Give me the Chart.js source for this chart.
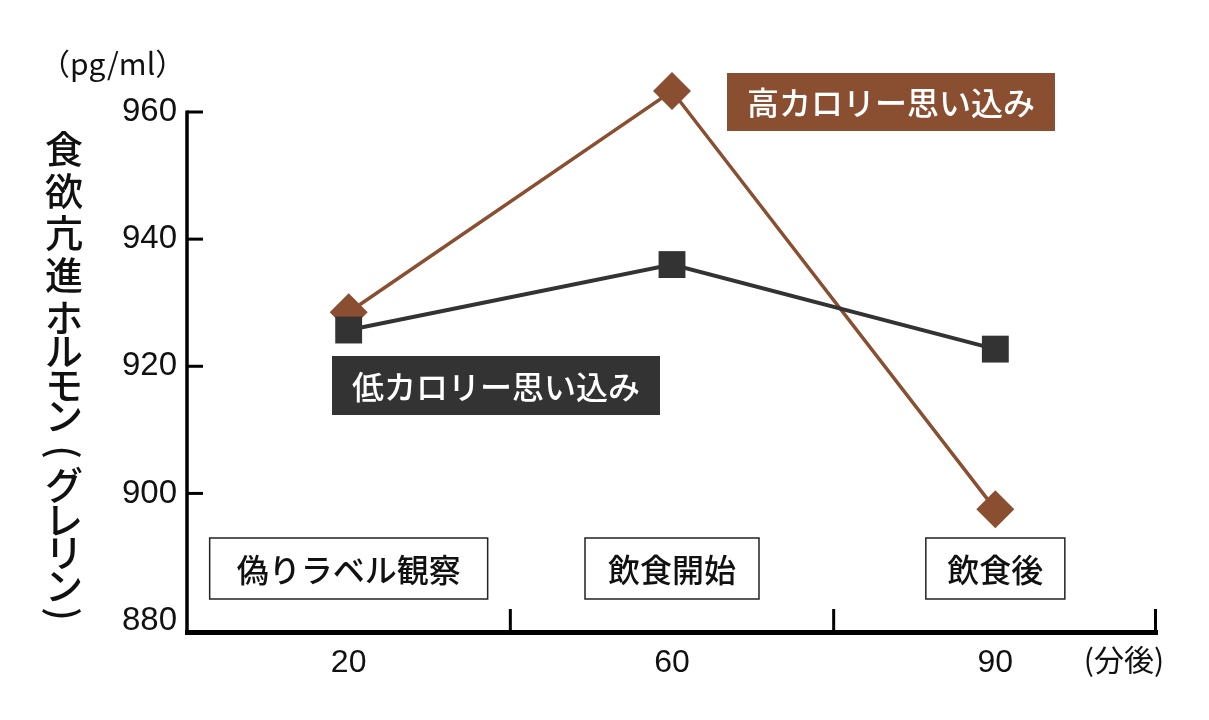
<!DOCTYPE html>
<html lang="ja">
<head>
<meta charset="utf-8">
<title>食欲亢進ホルモン（グレリン）</title>
<script src="https://cdn.jsdelivr.net/npm/chart.js@4"></script>
<style>
  html, body { margin: 0; padding: 0; background: #fff; }
  #wrap { width: 1209px; height: 720px; }
</style>
</head>
<body>
<div id="wrap"><canvas id="chart" width="1209" height="720"></canvas></div>
<script>
// values (pg/ml)
const timeLabels  = ['20', '60', '90'];
const highCalorie = [928.5, 963.3, 897.5];
const lowCalorie  = [925.7, 936.0, 922.7];
const yTicks      = [880, 900, 920, 940, 960];
const phaseLabels = ['偽りラベル観察', '飲食開始', '飲食後'];

const BROWN = '#8a4e31';
const DARK  = '#333333';
const JP    = '"Noto Sans CJK JP", "Noto Sans", sans-serif';
const NUM   = '"Liberation Sans", Arial, sans-serif';

// y title in vertical writing, brackets get turned; kana sit tighter than kanji
const titleChars = '食欲亢進ホルモン(グレリン)'.split('');
const titleY     = [149, 191, 233, 275, 318, 351, 385, 416, 452, 485, 520, 553, 586, 614];

function strokeLine(ctx, x1, y1, x2, y2) {
  ctx.beginPath(); ctx.moveTo(x1, y1); ctx.lineTo(x2, y2); ctx.stroke();
}

function labelBox(ctx, text, cx, top, w, h, fill, stroke, color) {
  const left = cx - w / 2;
  ctx.fillStyle = fill;
  ctx.fillRect(left, top, w, h);
  if (stroke) {
    ctx.strokeStyle = stroke; ctx.lineWidth = 1.5;
    ctx.strokeRect(left, top, w, h);
  }
  ctx.fillStyle = color;
  ctx.font = '500 32px ' + JP;
  ctx.textAlign = 'center'; ctx.textBaseline = 'middle';
  ctx.fillText(text, cx, top + h / 2 + 1);
}

const decor = {
  id: 'decor',
  afterDraw(chart) {
    const { ctx, chartArea: a, scales: { x, y } } = chart;
    ctx.save();

    // y axis line from 960 down, with inward tick marks (none at the bottom label)
    ctx.strokeStyle = '#000'; ctx.lineWidth = 3.5;
    strokeLine(ctx, a.left, y.getPixelForValue(960) - 1.5, a.left, a.bottom);
    ctx.lineWidth = 3;
    yTicks.filter(v => v > yTicks[0]).forEach(v => {
      const py = y.getPixelForValue(v);
      strokeLine(ctx, a.left, py, a.left + 16, py);
    });

    // band dividers on the x axis
    const px = timeLabels.map((_, i) => x.getPixelForValue(i));
    const edges = [(px[0] + px[1]) / 2, (px[1] + px[2]) / 2, a.right - 1.5];
    edges.forEach(ex => strokeLine(ctx, ex, a.bottom, ex, a.bottom - 23));

    // phase boxes
    const widths = [278, 174, 139];
    phaseLabels.forEach((t, i) => labelBox(ctx, t, px[i], 538, widths[i], 61, '#fff', '#222', '#111'));

    // series labels
    labelBox(ctx, '高カロリー思い込み', 891, 73, 328, 58, BROWN, null, '#fff');
    labelBox(ctx, '低カロリー思い込み', 496, 356, 328, 59, DARK, null, '#fff');

    // unit labels
    ctx.fillStyle = '#111';
    ctx.font = '30px ' + JP;
    ctx.textAlign = 'left'; ctx.textBaseline = 'middle';
    ctx.fillText('（pg/ml）', 40, 64);
    ctx.textAlign = 'center';
    ctx.fillText('(分後)', 1124, 660);

    // vertical y title
    ctx.font = '500 38px ' + JP;
    ctx.textAlign = 'center'; ctx.textBaseline = 'middle';
    titleChars.forEach((ch, i) => {
      const cy = titleY[i];
      if (ch === '(' || ch === ')') {
        ctx.save();
        ctx.translate(64, cy);
        ctx.rotate(Math.PI / 2);
        ctx.fillText(ch, 0, 0);
        ctx.restore();
      } else {
        ctx.fillText(ch, 64, cy);
      }
    });

    ctx.restore();
  }
};

new Chart(document.getElementById('chart'), {
  type: 'line',
  data: {
    labels: timeLabels,
    datasets: [
      {
        label: '低カロリー思い込み', data: lowCalorie,
        borderColor: DARK, backgroundColor: DARK, borderWidth: 4,
        pointStyle: 'rect', pointRadius: 19, pointBorderWidth: 0,
        tension: 0, clip: false,
      },
      {
        label: '高カロリー思い込み', data: highCalorie,
        borderColor: BROWN, backgroundColor: BROWN, borderWidth: 3.5,
        pointStyle: 'rectRot', pointRadius: 19, pointBorderWidth: 0,
        tension: 0, clip: false,
      },
    ],
  },
  options: {
    responsive: false,
    animation: false,
    devicePixelRatio: 1,
    // y range runs above 960 so the top marker is kept; the axis line stops at 960
    layout: { padding: { top: 67.5, right: 52, left: 0, bottom: 0 } },
    plugins: { legend: { display: false }, tooltip: { enabled: false } },
    scales: {
      x: {
        type: 'category',
        offset: true,
        grid: { display: false, drawTicks: false },
        border: { display: true, color: '#000', width: 5 },
        ticks: { color: '#111', font: { family: NUM, size: 32 }, padding: 12, maxRotation: 0 },
        afterFit: s => { s.height = 88; },
      },
      y: {
        min: 878.2, max: 967,
        grid: { display: false, drawTicks: false },
        border: { display: false },
        ticks: { color: '#111', font: { family: NUM, size: 33 }, padding: 10 },
        afterBuildTicks: s => { s.ticks = yTicks.map(v => ({ value: v })); },
        afterFit: s => { s.width = 187; },
      },
    },
  },
  plugins: [decor],
});
</script>
</body>
</html>
